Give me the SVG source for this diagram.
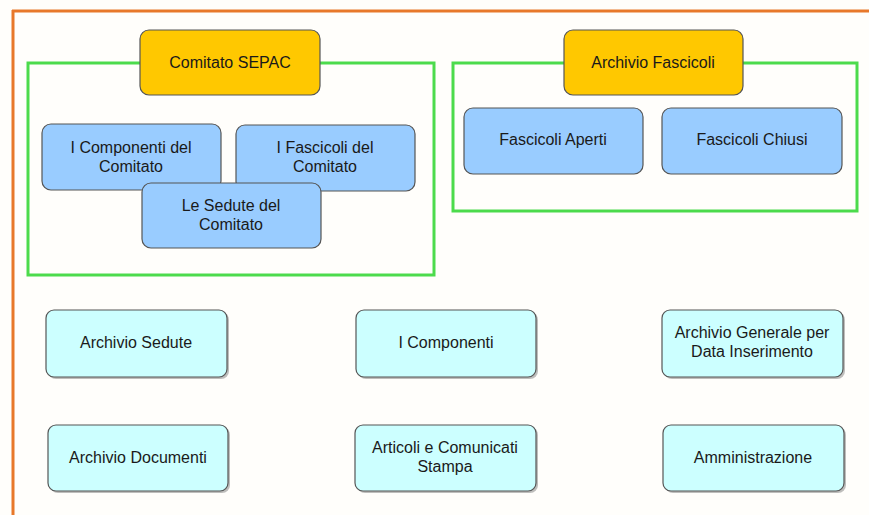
<svg xmlns="http://www.w3.org/2000/svg" width="869" height="515" viewBox="0 0 869 515">
<style>
text{font-family:"Liberation Sans","DejaVu Sans",sans-serif;font-size:16px;fill:#1a1a1a;text-anchor:middle}
.frame{fill:none;stroke:#E8782A;stroke-width:3}
.group{fill:none;stroke:#4CDB4C;stroke-width:3}
.gold{fill:#FFC800;stroke:#555;stroke-width:1.2}
.blue{fill:#99CCFF;stroke:#555;stroke-width:1.2}
.cyan{fill:#CCFFFF;stroke:#555;stroke-width:1.2}
.shadow{fill:#888;opacity:0.55}
</style>
<rect x="0" y="0" width="869" height="515" fill="#FFFEFB"/>
<g id="frame">
<line class="frame" x1="12" y1="11" x2="869" y2="11"/>
<line class="frame" x1="13" y1="10" x2="13" y2="515"/>
</g>
<g id="group-comitato"><rect class="group" x="28" y="63" width="406" height="212"/></g>
<g id="group-archivio"><rect class="group" x="453" y="63" width="404" height="148"/></g>
<g id="connectors"></g>
<g id="comitato-sepac"><rect class="gold" x="140" y="30" width="180" height="65" rx="9"/><text x="230" y="68">Comitato SEPAC</text></g>
<g id="componenti-comitato"><rect class="blue" x="42" y="124" width="179" height="66" rx="9"/><text x="131" y="153">I Componenti del</text><text x="131" y="172">Comitato</text></g>
<g id="fascicoli-comitato"><rect class="blue" x="236" y="125" width="179" height="66" rx="9"/><text x="325" y="153">I Fascicoli del</text><text x="325" y="172">Comitato</text></g>
<g id="sedute-comitato"><rect class="blue" x="142" y="183" width="179" height="65" rx="9"/><text x="231" y="211">Le Sedute del</text><text x="231" y="230">Comitato</text></g>
<g id="archivio-fascicoli"><rect class="gold" x="564" y="30" width="179" height="65" rx="9"/><text x="653" y="68">Archivio Fascicoli</text></g>
<g id="fascicoli-aperti"><rect class="blue" x="464" y="108" width="179" height="66" rx="9"/><text x="553" y="145">Fascicoli Aperti</text></g>
<g id="fascicoli-chiusi"><rect class="blue" x="662" y="108" width="180" height="66" rx="9"/><text x="752" y="145">Fascicoli Chiusi</text></g>
<g id="archivio-sedute"><rect class="shadow" x="48" y="312" width="181" height="67" rx="8"/><rect class="cyan" x="46" y="310" width="181" height="67" rx="8"/><text x="136" y="348">Archivio Sedute</text></g>
<g id="i-componenti"><rect class="shadow" x="358" y="312" width="180" height="67" rx="8"/><rect class="cyan" x="356" y="310" width="180" height="67" rx="8"/><text x="446" y="348">I Componenti</text></g>
<g id="archivio-generale"><rect class="shadow" x="664" y="312" width="181" height="67" rx="8"/><rect class="cyan" x="662" y="310" width="181" height="67" rx="8"/><text x="752" y="338">Archivio Generale per</text><text x="752" y="357">Data Inserimento</text></g>
<g id="archivio-documenti"><rect class="shadow" x="50" y="427" width="180" height="66" rx="8"/><rect class="cyan" x="48" y="425" width="180" height="66" rx="8"/><text x="138" y="463">Archivio Documenti</text></g>
<g id="articoli-comunicati"><rect class="shadow" x="357" y="427" width="181" height="66" rx="8"/><rect class="cyan" x="355" y="425" width="181" height="66" rx="8"/><text x="445" y="453">Articoli e Comunicati</text><text x="445" y="472">Stampa</text></g>
<g id="amministrazione"><rect class="shadow" x="665" y="427" width="181" height="66" rx="8"/><rect class="cyan" x="663" y="425" width="181" height="66" rx="8"/><text x="753" y="463">Amministrazione</text></g>
</svg>
